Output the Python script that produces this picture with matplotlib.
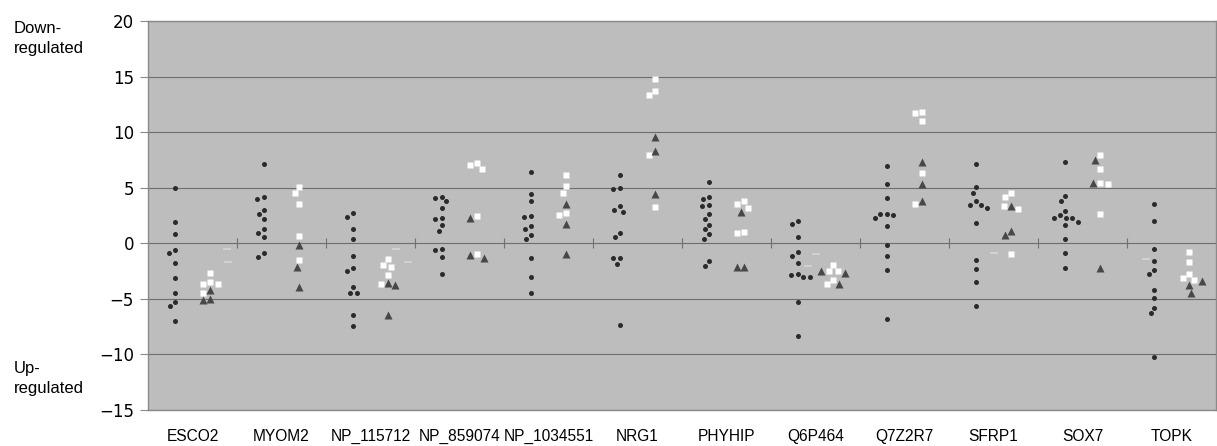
import numpy as np
import matplotlib.pyplot as plt

genes = ['ESCO2', 'MYOM2', 'NP_115712', 'NP_859074', 'NP_1034551', 'NRG1',
         'PHYHIP', 'Q6P464', 'Q7Z2R7', 'SFRP1', 'SOX7', 'TOPK']

# black dots (left column of each gene)
dots = [
    [4.97, 1.92, 0.87, -0.60, -0.90, -1.74, -3.11, -4.49, -5.27, -5.63, -6.98],
    [7.10, 4.16, 4.01, 2.96, 2.60, 2.19, 1.26, 0.96, 0.54, -0.90, -1.23],
    [2.75, 2.40, 1.26, 0.42, -1.14, -2.19, -2.49, -3.95, -4.49, -4.49, -6.41, -7.43],
    [4.19, 4.04, 3.77, 3.20, 2.31, 2.16, 1.68, 1.14, -0.48, -0.60, -1.26, -2.78],
    [6.44, 4.43, 3.80, 2.43, 2.34, 1.53, 1.26, 0.78, 0.42, -1.32, -3.05, -4.43],
    [6.11, 5.00, 4.88, 3.32, 2.99, 2.81, 0.96, 0.54, -1.29, -1.32, -1.83, -7.31],
    [5.48, 4.19, 3.95, 3.44, 3.35, 2.66, 2.16, 1.68, 1.26, 0.81, 0.39, -1.56, -2.04],
    [2.04, 1.71, 0.57, -0.81, -1.11, -1.80, -2.78, -2.84, -3.05, -3.05, -5.27, -8.32],
    [6.92, 5.33, 4.04, 2.60, 2.60, 2.51, 2.31, 1.56, -0.18, -1.11, -2.37, -6.77],
    [7.13, 5.06, 4.55, 3.80, 3.47, 3.41, 3.20, 1.86, -1.50, -2.28, -3.50, -5.66],
    [7.28, 4.25, 3.77, 2.90, 2.51, 2.31, 2.25, 2.25, 1.95, 1.65, 0.36, -0.90, -2.19],
    [3.56, 2.01, -0.51, -1.59, -2.40, -2.78, -4.16, -4.94, -5.78, -6.29, -10.21],
]

# white squares (right column)
squares = [
    [-2.66, -3.47, -3.62, -3.62, -4.43],
    [5.03, 4.49, 3.50, 0.66, -1.50],
    [-1.44, -1.95, -2.13, -2.81, -3.68],
    [7.19, 7.04, 6.65, 2.46, -0.99],
    [6.11, 5.15, 4.55, 2.72, 2.51],
    [14.82, 13.71, 13.32, 7.90, 3.29],
    [3.80, 3.56, 3.20, 1.02, 0.96],
    [-1.95, -2.49, -2.49, -3.29, -3.62],
    [11.83, 11.74, 10.99, 6.35, 3.56],
    [4.55, 4.19, 3.32, 3.08, -0.99],
    [7.93, 6.65, 5.39, 5.30, 2.60],
    [-0.75, -1.68, -2.78, -3.11, -3.29],
]

# dark triangles (right column)
triangles = [
    [-4.19, -4.97, -5.12],
    [-0.12, -2.13, -3.89],
    [-3.56, -3.77, -6.47],
    [2.25, -1.08, -1.29],
    [3.53, 1.71, -0.99],
    [9.58, 8.29, 4.40],
    [2.84, -2.16, -2.16],
    [-2.49, -2.69, -3.68],
    [7.34, 5.33, 3.80],
    [3.35, 1.15, 0.75],
    [7.49, 5.39, -2.19],
    [-3.38, -3.77, -4.43],
]

# faint light dashes
dash_gene = [0, 0, 2, 2, 7, 7, 9, 11]
dash_vals = [-0.54, -1.65, -0.48, -1.65, -0.99, -2.0, -0.84, -1.38]
dash_offsets = [0.39, 0.40, 0.29, 0.42, 0.0, -0.08, 0.0, -0.29]


def swarm(vals, d_px, ppx, ppy):
    """x offsets (data units) so that markers of diameter d_px don't overlap"""
    vals = np.asarray(vals, float)
    xs = np.zeros(len(vals))
    placed = []
    for i in np.argsort(-vals, kind='stable'):
        y = vals[i] * ppy
        cands = [0.0]
        for px, py in placed:
            dy = y - py
            if abs(dy) < d_px:
                dx = np.sqrt(d_px ** 2 - dy ** 2)
                cands += [px - dx, px + dx]
        cands.sort(key=abs)
        for c in cands:
            if all((c - px) ** 2 + (y - py) ** 2 >= d_px ** 2 - 1e-6 for px, py in placed):
                xs[i] = c
                break
        placed.append((xs[i], y))
    return xs / ppx


fig = plt.figure(figsize=(12.17, 4.46), dpi=100)
ax = fig.add_axes([148 / 1217, 36 / 446, 1068 / 1217, 389 / 446])
ax.set_facecolor('#bdbdbd')
ax.set_xlim(-0.5, len(genes) - 0.5)
ax.set_ylim(-15, 20)

ppx = 1068 / len(genes)
ppy = 389 / 35

ax.set_yticks(np.arange(-15, 21, 5))
ax.yaxis.grid(True, color='#6e6e6e', lw=0.8)
ax.set_axisbelow(True)
ax.tick_params(axis='y', length=6, width=0.8, color='#8a8a8a', pad=4,
               labelsize=12, labelfontfamily='DejaVu Sans')

ax.set_xticks(np.arange(len(genes)))
ax.set_xticklabels(genes, fontsize=11.2, family='Liberation Sans')
ax.tick_params(axis='x', length=0, pad=13.5)
for s in ax.spines.values():
    s.set_color('#8a8a8a')
    s.set_linewidth(1.0)

# small ticks on the zero line between genes
ax.plot(np.arange(1, len(genes)) - 0.5, np.zeros(len(genes) - 1), ls='none',
        marker='|', ms=7, mew=0.8, color='#707070', zorder=2)

# faint dashes
ax.plot(np.array(dash_gene) + np.array(dash_offsets), dash_vals, ls='none',
        marker='_', ms=6, mew=1.2, color='#d6d6d6', zorder=2)

for i in range(len(genes)):
    d = np.array(dots[i])
    xd = swarm(d, 6.5, ppx, ppy)
    ax.plot(i - 0.2 + xd, d, 'o', ms=3.6, color='#2a2a2a', mec='none', zorder=3)

    right = np.array(squares[i] + triangles[i])
    xr = swarm(right, 7.5, ppx, ppy)
    n = len(squares[i])
    ax.plot(i + 0.2 + xr[:n], right[:n], 's', ms=4.4, color='white', mec='none', zorder=3)
    ax.plot(i + 0.2 + xr[n:], right[n:], '^', ms=5.2, color='#474747', mec='none', zorder=4)

fig.text(14 / 1217, 1 - 21 / 446, 'Down-\nregulated', ha='left', va='top',
         fontsize=12, family='Liberation Sans', linespacing=1.45)
fig.text(14 / 1217, 1 - 361 / 446, 'Up-\nregulated', ha='left', va='top',
         fontsize=12, family='Liberation Sans', linespacing=1.45)

fig.savefig('out.png', dpi=100, facecolor='white')
